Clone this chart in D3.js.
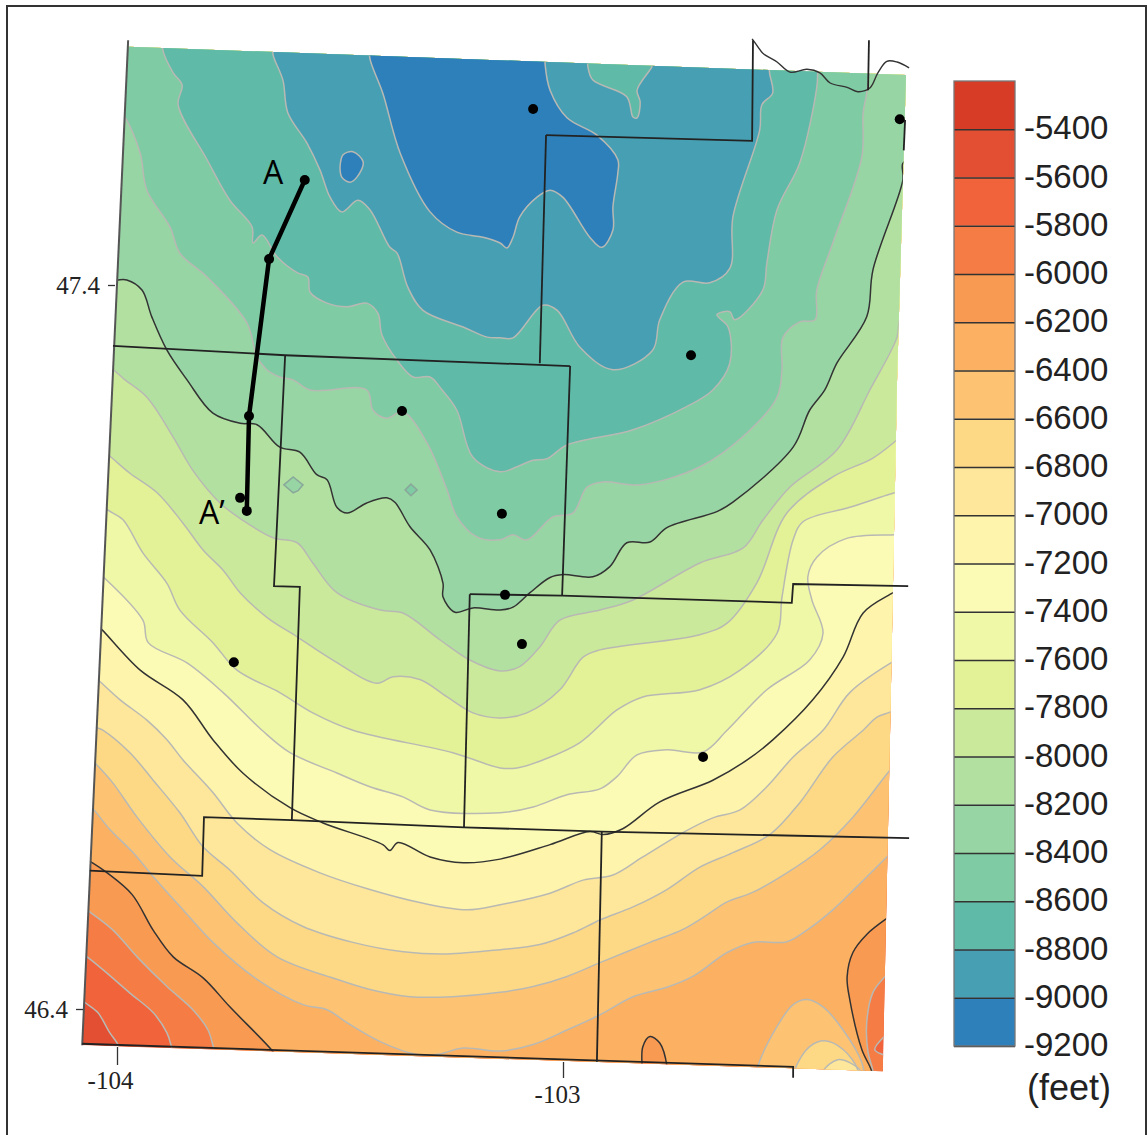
<!DOCTYPE html>
<html>
<head>
<meta charset="utf-8">
<script src="https://cdn.jsdelivr.net/npm/d3@7"></script>
<style>
  html, body { margin: 0; padding: 0; background: #fff; }
  svg { display: block; }
</style>
</head>
<body>
<svg id="chart" width="1147" height="1135"></svg>
<script>
// structure top values as [lon, lat]
const legendLevels = d3.range(-5400, -9201, -200)
const bandTops = d3.range(-5200, -9001, -200)
const bandColors = ['#d73c26', '#e34f32', '#f1643b', '#f67c45', '#f99a52', '#fcb062', '#fdc373', '#fdd985', '#fee79a', '#fef4ac',
  '#fcfbb5', '#eff8a6', '#e3f297', '#cbe99a', '#b2e0a1', '#98d5a4', '#7ecba4', '#5fbaa8', '#479fb3', '#2e80bb']
const blackLevels = [-6200, -7200, -8200]

// closing vertices, outside the map outline
const NE = [[-102.133, 47.766]]
const NW = [[-104.128, 47.766]]
const SE = [[-102.133, 46.261]]
const UNDER = [[-102.245, 46.289]]

const mapOutline = [[-103.975, 47.729], [-102.231, 47.690], [-102.251, 47.269], [-102.267, 46.772], [-102.283, 46.314], [-104.078, 46.350]]

const c5600 = [[[-104.087, 46.417], [-104.072, 46.409], [-104.043, 46.395], [-104.016, 46.367], [-103.998, 46.351], [-103.989, 46.330]], SE, NE, NW]
const c5800 = [[[-104.083, 46.479], [-104.067, 46.472], [-104.031, 46.454], [-103.971, 46.422], [-103.919, 46.395], [-103.888, 46.367], [-103.877, 46.346], [-103.870, 46.330]],
  UNDER,
  [[-102.262, 46.333], [-102.283, 46.337], [-102.301, 46.344], [-102.283, 46.360], [-102.262, 46.371]], NE, NW]
const c6000 = [[[-104.076, 46.540], [-104.061, 46.534], [-104.009, 46.509], [-103.955, 46.472], [-103.888, 46.431], [-103.830, 46.399], [-103.796, 46.371], [-103.783, 46.346], [-103.774, 46.330]],
  [[-102.305, 46.296], [-102.305, 46.314], [-102.316, 46.340], [-102.319, 46.381], [-102.305, 46.423], [-102.278, 46.445], [-102.256, 46.459]], NE, NW]
const c6200 = [[[-104.074, 46.609], [-104.058, 46.603], [-104.022, 46.588], [-103.966, 46.558], [-103.919, 46.509], [-103.874, 46.472], [-103.807, 46.443], [-103.747, 46.403], [-103.650, 46.341], [-103.635, 46.327]],
  [[-102.823, 46.296], [-102.823, 46.321], [-102.821, 46.348], [-102.805, 46.362], [-102.783, 46.353], [-102.767, 46.321], [-102.767, 46.296]],
  [[-102.307, 46.289], [-102.307, 46.312], [-102.330, 46.344], [-102.357, 46.413], [-102.363, 46.444], [-102.350, 46.478], [-102.319, 46.503], [-102.274, 46.525], [-102.251, 46.534]], NE, NW]
const c6400 = [[[-104.072, 46.686], [-104.056, 46.678], [-104.016, 46.648], [-103.964, 46.616], [-103.919, 46.583], [-103.852, 46.537], [-103.785, 46.492], [-103.686, 46.441], [-103.583, 46.406], [-103.529, 46.399], [-103.484, 46.381], [-103.410, 46.355], [-103.327, 46.337], [-103.283, 46.337], [-103.224, 46.346], [-103.141, 46.342], [-103.067, 46.351], [-102.991, 46.371], [-102.917, 46.392], [-102.843, 46.417], [-102.767, 46.430], [-102.709, 46.445], [-102.632, 46.478], [-102.575, 46.492], [-102.498, 46.493], [-102.453, 46.509], [-102.395, 46.537], [-102.341, 46.569], [-102.274, 46.610], [-102.251, 46.624]], NE, NW]
const lobe6400 = [[[-102.570, 46.296], [-102.563, 46.321], [-102.520, 46.376], [-102.484, 46.406], [-102.453, 46.413], [-102.417, 46.403], [-102.372, 46.371], [-102.330, 46.326], [-102.323, 46.296]]]
const c6600 = [[[-104.061, 46.747], [-104.045, 46.737], [-104.009, 46.712], [-103.955, 46.665], [-103.881, 46.610], [-103.807, 46.569], [-103.731, 46.519], [-103.641, 46.472], [-103.507, 46.441], [-103.433, 46.427], [-103.343, 46.417], [-103.247, 46.417], [-103.141, 46.423], [-103.067, 46.431], [-102.991, 46.445], [-102.917, 46.464], [-102.805, 46.492], [-102.731, 46.510], [-102.677, 46.530], [-102.632, 46.548], [-102.575, 46.561], [-102.498, 46.588], [-102.424, 46.620], [-102.350, 46.665], [-102.272, 46.726], [-102.251, 46.741]], NE, NW]
const lobe6600 = [[[-102.480, 46.296], [-102.480, 46.316], [-102.447, 46.348], [-102.413, 46.356], [-102.372, 46.344], [-102.339, 46.316], [-102.339, 46.296]]]
const c6800 = [[[-104.061, 46.799], [-104.045, 46.789], [-104.031, 46.785], [-103.971, 46.754], [-103.919, 46.716], [-103.859, 46.671], [-103.807, 46.624], [-103.747, 46.592], [-103.673, 46.547], [-103.583, 46.514], [-103.471, 46.492], [-103.358, 46.479], [-103.260, 46.476], [-103.141, 46.482], [-103.052, 46.489], [-102.978, 46.505], [-102.917, 46.523], [-102.843, 46.541], [-102.767, 46.565], [-102.693, 46.596], [-102.619, 46.616], [-102.536, 46.641], [-102.469, 46.685], [-102.395, 46.748], [-102.327, 46.785], [-102.296, 46.803], [-102.267, 46.810], [-102.245, 46.816]], NE, NW]
const lobe6800 = [[[-102.417, 46.296], [-102.417, 46.314], [-102.384, 46.330], [-102.357, 46.326], [-102.330, 46.312], [-102.330, 46.296]]]
const c7000 = [[[-104.054, 46.860], [-104.038, 46.852], [-103.993, 46.827], [-103.933, 46.799], [-103.888, 46.772], [-103.852, 46.744], [-103.785, 46.699], [-103.731, 46.657], [-103.657, 46.620], [-103.545, 46.588], [-103.433, 46.565], [-103.321, 46.547], [-103.215, 46.537], [-103.141, 46.544], [-103.029, 46.560], [-102.955, 46.578], [-102.888, 46.585], [-102.821, 46.610], [-102.727, 46.645], [-102.664, 46.664], [-102.603, 46.675], [-102.543, 46.707], [-102.484, 46.748], [-102.417, 46.785], [-102.357, 46.837], [-102.262, 46.879], [-102.240, 46.886]], NE, NW]
const c7200 = [[[-104.049, 46.932], [-104.034, 46.924], [-103.948, 46.868], [-103.852, 46.827], [-103.785, 46.772], [-103.718, 46.726], [-103.612, 46.678], [-103.538, 46.657], [-103.404, 46.627], [-103.388, 46.619], [-103.370, 46.630], [-103.298, 46.610], [-103.224, 46.602], [-103.141, 46.607], [-103.029, 46.627], [-102.940, 46.645], [-102.910, 46.641], [-102.866, 46.649], [-102.783, 46.686], [-102.664, 46.716], [-102.587, 46.744], [-102.529, 46.772], [-102.440, 46.827], [-102.372, 46.886], [-102.327, 46.947], [-102.260, 46.975], [-102.238, 46.983]], NE, NW]
const c7400 = [[[-104.047, 47.005], [-104.031, 46.997], [-103.942, 46.937], [-103.930, 46.906], [-103.843, 46.878], [-103.762, 46.837], [-103.675, 46.785], [-103.612, 46.754], [-103.507, 46.726], [-103.433, 46.707], [-103.359, 46.693], [-103.298, 46.675], [-103.141, 46.671], [-103.067, 46.679], [-102.991, 46.696], [-102.917, 46.704], [-102.879, 46.721], [-102.834, 46.751], [-102.767, 46.758], [-102.686, 46.755], [-102.632, 46.785], [-102.543, 46.841], [-102.447, 46.882], [-102.417, 46.919], [-102.442, 46.965], [-102.451, 46.997], [-102.431, 47.024], [-102.364, 47.050], [-102.256, 47.055], [-102.233, 47.056]], NE, NW]
const c7600 = [[[-104.036, 47.098], [-104.020, 47.089], [-103.987, 47.076], [-103.942, 47.030], [-103.888, 46.988], [-103.859, 46.951], [-103.785, 46.906], [-103.731, 46.868], [-103.635, 46.837], [-103.561, 46.809], [-103.471, 46.785], [-103.247, 46.754], [-103.141, 46.733], [-103.103, 46.733], [-103.045, 46.744], [-102.962, 46.768], [-102.879, 46.813], [-102.821, 46.831], [-102.693, 46.841], [-102.603, 46.868], [-102.520, 46.919], [-102.509, 46.969], [-102.484, 47.048], [-102.462, 47.073], [-102.357, 47.093], [-102.251, 47.114], [-102.229, 47.117]], NE, NW]
const c7800 = [[[-104.027, 47.169], [-104.011, 47.161], [-103.971, 47.140], [-103.910, 47.113], [-103.852, 47.071], [-103.807, 47.034], [-103.762, 47.006], [-103.724, 46.975], [-103.664, 46.941], [-103.596, 46.914], [-103.516, 46.882], [-103.417, 46.850], [-103.381, 46.859], [-103.321, 46.855], [-103.260, 46.831], [-103.202, 46.809], [-103.141, 46.802], [-103.081, 46.809], [-103.007, 46.841], [-102.955, 46.886], [-102.917, 46.896], [-102.693, 46.917], [-102.632, 46.933], [-102.565, 46.989], [-102.498, 47.085], [-102.395, 47.135], [-102.305, 47.161], [-102.251, 47.186], [-102.229, 47.197]], NE, NW]
const c8000 = [[[-104.031, 47.290], [-104.009, 47.283], [-103.982, 47.269], [-103.933, 47.245], [-103.874, 47.190], [-103.830, 47.144], [-103.769, 47.099], [-103.718, 47.075], [-103.650, 47.051], [-103.596, 47.044], [-103.561, 47.016], [-103.507, 46.975], [-103.410, 46.951], [-103.359, 46.947], [-103.276, 46.910], [-103.209, 46.882], [-103.141, 46.867], [-103.097, 46.873], [-103.052, 46.900], [-103.007, 46.937], [-102.917, 46.951], [-102.843, 46.965], [-102.693, 47.016], [-102.596, 47.037], [-102.552, 47.075], [-102.491, 47.121], [-102.386, 47.172], [-102.312, 47.255], [-102.251, 47.328], [-102.245, 47.352], [-102.227, 47.363]], NE, NW]
const c8200 = [[[-104.016, 47.407], [-104.000, 47.407], [-103.978, 47.407], [-103.944, 47.393], [-103.922, 47.356], [-103.888, 47.310], [-103.843, 47.269], [-103.785, 47.223], [-103.724, 47.209], [-103.686, 47.207], [-103.635, 47.176], [-103.590, 47.169], [-103.552, 47.138], [-103.529, 47.131], [-103.507, 47.093], [-103.484, 47.085], [-103.440, 47.099], [-103.395, 47.106], [-103.377, 47.100], [-103.343, 47.066], [-103.298, 47.034], [-103.269, 46.988], [-103.269, 46.969], [-103.242, 46.948], [-103.202, 46.954], [-103.141, 46.951], [-103.112, 46.955], [-103.074, 46.975], [-103.029, 46.996], [-103.000, 47.000], [-102.933, 46.997], [-102.895, 47.011], [-102.857, 47.044], [-102.805, 47.045], [-102.767, 47.065], [-102.655, 47.087], [-102.619, 47.100], [-102.484, 47.176], [-102.447, 47.227], [-102.413, 47.255], [-102.386, 47.292], [-102.319, 47.356], [-102.305, 47.421], [-102.238, 47.545], [-102.238, 47.568], [-102.218, 47.575]], NE, NW]
const c8400 = [[[-103.998, 47.644], [-103.982, 47.632], [-103.948, 47.582], [-103.933, 47.531], [-103.881, 47.480], [-103.859, 47.444], [-103.798, 47.411], [-103.709, 47.348], [-103.686, 47.301], [-103.664, 47.283], [-103.635, 47.273], [-103.605, 47.269], [-103.567, 47.255], [-103.440, 47.255], [-103.426, 47.227], [-103.395, 47.216], [-103.359, 47.225], [-103.305, 47.182], [-103.260, 47.117], [-103.238, 47.080], [-103.193, 47.052], [-103.141, 47.048], [-103.112, 47.055], [-103.081, 47.048], [-103.022, 47.080], [-102.978, 47.085], [-102.946, 47.121], [-102.910, 47.128], [-102.827, 47.124], [-102.693, 47.149], [-102.587, 47.196], [-102.520, 47.245], [-102.509, 47.283], [-102.507, 47.327], [-102.469, 47.349], [-102.435, 47.352], [-102.431, 47.393], [-102.395, 47.458], [-102.330, 47.577], [-102.327, 47.638], [-102.319, 47.665], [-102.312, 47.711]], NE, NW]
const c8600 = [[[-103.897, 47.738], [-103.897, 47.724], [-103.874, 47.693], [-103.854, 47.676], [-103.863, 47.649], [-103.798, 47.573], [-103.747, 47.517], [-103.697, 47.480], [-103.695, 47.458], [-103.675, 47.469], [-103.641, 47.439], [-103.596, 47.417], [-103.572, 47.411], [-103.567, 47.390], [-103.529, 47.375], [-103.484, 47.370], [-103.440, 47.375], [-103.415, 47.361], [-103.406, 47.331], [-103.372, 47.296], [-103.336, 47.273], [-103.298, 47.273], [-103.271, 47.255], [-103.238, 47.227], [-103.202, 47.162], [-103.141, 47.142], [-103.103, 47.149], [-103.067, 47.158], [-103.036, 47.160], [-102.991, 47.179], [-102.843, 47.200], [-102.723, 47.232], [-102.664, 47.255], [-102.626, 47.292], [-102.630, 47.342], [-102.655, 47.359], [-102.626, 47.363], [-102.615, 47.352], [-102.552, 47.393], [-102.543, 47.430], [-102.520, 47.504], [-102.469, 47.569], [-102.431, 47.673], [-102.429, 47.693], [-102.429, 47.718]]]
const c8800 = [[[-103.650, 47.731], [-103.650, 47.718], [-103.628, 47.683], [-103.617, 47.638], [-103.574, 47.596], [-103.545, 47.559], [-103.522, 47.521], [-103.496, 47.501], [-103.460, 47.517], [-103.433, 47.504], [-103.388, 47.452], [-103.372, 47.444], [-103.348, 47.397], [-103.314, 47.365], [-103.224, 47.342], [-103.170, 47.328], [-103.141, 47.327], [-103.112, 47.327], [-103.045, 47.372], [-103.013, 47.365], [-102.962, 47.314], [-102.888, 47.283], [-102.799, 47.310], [-102.783, 47.352], [-102.731, 47.404], [-102.671, 47.403], [-102.626, 47.423], [-102.619, 47.494], [-102.559, 47.614], [-102.554, 47.649], [-102.530, 47.665], [-102.537, 47.694], [-102.537, 47.718]],
  [[-102.801, 47.718], [-102.801, 47.701], [-102.805, 47.697], [-102.834, 47.669], [-102.827, 47.653], [-102.834, 47.631], [-102.843, 47.632], [-102.857, 47.660], [-102.933, 47.683], [-102.944, 47.701], [-102.944, 47.718]]]
const c9000 = [[[-103.433, 47.731], [-103.433, 47.713], [-103.404, 47.665], [-103.365, 47.582], [-103.298, 47.501], [-103.238, 47.473], [-103.179, 47.466], [-103.141, 47.458], [-103.126, 47.451], [-103.112, 47.466], [-103.097, 47.494], [-103.059, 47.521], [-103.029, 47.531], [-103.000, 47.521], [-102.940, 47.466], [-102.913, 47.452], [-102.888, 47.476], [-102.888, 47.508], [-102.877, 47.555], [-102.877, 47.573], [-102.924, 47.607], [-102.991, 47.631], [-103.029, 47.669], [-103.040, 47.704], [-103.040, 47.725]]]
const island9000 = [[[-103.500, 47.563], [-103.493, 47.580], [-103.471, 47.584], [-103.448, 47.570], [-103.462, 47.549], [-103.478, 47.542], [-103.496, 47.549], [-103.500, 47.563]]]

const contourRings = [
  [-5600, c5600], [-5800, c5800], [-6000, c6000], [-6200, c6200], [-6400, c6400], [-6400, lobe6400], [-6600, c6600], [-6600, lobe6600],
  [-6800, c6800], [-6800, lobe6800], [-7000, c7000], [-7200, c7200], [-7400, c7400], [-7600, c7600], [-7800, c7800], [-8000, c8000],
  [-8200, c8200], [-8400, c8400], [-8600, c8600], [-8800, c8800], [-9000, c9000], [-9000, island9000]
]

// small closed pockets, outlined grey even on a black level
const pocket8200 = [[-103.626, 47.124], [-103.605, 47.135], [-103.583, 47.124], [-103.594, 47.116], [-103.605, 47.113]]
const pocket8400 = [[-103.354, 47.117], [-103.341, 47.125], [-103.327, 47.117], [-103.341, 47.109]]

const countyLines = [
  [[-104.009, 47.316], [-103.623, 47.303], [-102.984, 47.288]],
  [[-103.623, 47.303], [-103.648, 46.984], [-103.590, 46.983], [-103.608, 46.661]],
  [[-102.984, 47.288], [-103.002, 46.971]],
  [[-103.209, 46.973], [-103.002, 46.971], [-102.487, 46.961], [-102.484, 46.987], [-102.226, 46.984]],
  [[-103.209, 46.973], [-103.222, 46.651]],
  [[-104.061, 46.591], [-103.809, 46.584], [-103.805, 46.665], [-103.608, 46.661], [-103.222, 46.651], [-102.913, 46.645], [-102.224, 46.636]],
  [[-102.913, 46.645], [-102.924, 46.327]],
  [[-103.038, 47.607], [-102.576, 47.599], [-102.574, 47.738]],
  [[-103.038, 47.607], [-103.052, 47.292]],
  [[-102.314, 47.738], [-102.316, 47.669]],
  [[-104.078, 46.352], [-102.484, 46.320], [-102.484, 46.305]],
  [[-102.233, 47.628], [-102.236, 47.586]]
]
const westEdge = [[-103.975, 47.738], [-104.078, 46.350]]
const riverLine = [[-102.576, 47.740], [-102.563, 47.729], [-102.552, 47.720], [-102.520, 47.708], [-102.491, 47.694], [-102.453, 47.698], [-102.424, 47.693], [-102.401, 47.679], [-102.363, 47.673], [-102.339, 47.667], [-102.312, 47.672], [-102.294, 47.693], [-102.274, 47.709], [-102.251, 47.708], [-102.224, 47.700]]

const wells = [[-103.067, 47.643], [-102.245, 47.629], [-103.579, 47.545], [-103.659, 47.436], [-102.713, 47.303], [-103.361, 47.226], [-103.704, 47.219], [-103.724, 47.106], [-103.709, 47.088], [-103.137, 47.084], [-103.130, 46.972], [-103.092, 46.904], [-103.738, 46.879], [-102.686, 46.748]]
const sectionLine = [[-103.579, 47.545], [-103.659, 47.436], [-103.704, 47.219], [-103.709, 47.088]]

let svg = d3.select('#chart')
let lonScale = d3.scaleLinear().domain([-104, -103]).range([117, 563])
let latScale = d3.scaleLinear().domain([47.4, 46.4]).range([285, 1009])
let legendY = d3.scaleLinear().domain([-5200, -9200]).range([81, 1046])

let line = d3.line().x(d => lonScale(d[0])).y(d => latScale(d[1]))
let smooth = d3.line().x(d => lonScale(d[0])).y(d => latScale(d[1])).curve(d3.curveCatmullRom.alpha(0.5))

// a ring is a list of contour pieces joined by straight closing runs outside the map
function ringPath(ring) {
  return ring.map((seg, i) => {
    let d = seg.length > 1 ? smooth(seg) : line(seg).replace('Z', '')
    return i ? d.replace(/^M/, 'L') : d
  }).join('') + 'Z'
}
const bandColor = level => bandColors[bandTops.indexOf(level)]

// page frame, its bottom edge runs off the page
svg.append('rect').attr('x', 7).attr('y', 6).attr('width', 1139).attr('height', 1160)
  .attr('fill', '#fff').attr('stroke', '#333').attr('stroke-width', 2)

svg.append('clipPath').attr('id', 'map-clip').append('path').attr('d', line(mapOutline) + 'Z')
let map = svg.append('g').attr('clip-path', 'url(#map-clip)')

// shallow to deep, each ring paints everything deeper than its level
map.append('path').attr('d', line(mapOutline) + 'Z').attr('fill', bandColor(-5400))
map.selectAll('path.band').data(contourRings).enter().append('path')
  .attr('class', 'band')
  .attr('d', d => ringPath(d[1]))
  .attr('fill', d => bandColor(d[0]))
map.selectAll('path.pocket').data([[-8200, pocket8200], [-8400, pocket8400]]).enter().append('path')
  .attr('class', 'pocket')
  .attr('d', d => line(d[1]) + 'Z')
  .attr('fill', d => bandColor(d[0]))
  .attr('stroke', '#8aa89a').attr('stroke-width', 1.5)

// contour lines, grey, with the black index contours on top
let pieces = []
contourRings.forEach(d => d[1].forEach(seg => { if (seg.length > 1) pieces.push({ level: d[0], seg: seg }) }))
pieces.sort((a, b) => blackLevels.includes(a.level) - blackLevels.includes(b.level))
svg.append('g').attr('clip-path', 'url(#map-clip)').selectAll('path').data(pieces).enter().append('path')
  .attr('d', d => smooth(d.seg))
  .attr('fill', 'none')
  .attr('stroke', d => blackLevels.includes(d.level) ? '#333' : '#b9b9b4')
  .attr('stroke-width', d => blackLevels.includes(d.level) ? 1.5 : 1.5)

svg.append('path').attr('d', line(westEdge)).attr('fill', 'none').attr('stroke', '#555').attr('stroke-width', 2)
svg.append('path').attr('d', smooth(riverLine)).attr('fill', 'none').attr('stroke', '#333').attr('stroke-width', 1.4)
svg.selectAll('path.county').data(countyLines).enter().append('path')
  .attr('class', 'county')
  .attr('d', line)
  .attr('fill', 'none').attr('stroke', '#222').attr('stroke-width', 1.8)

svg.append('path').attr('d', line(sectionLine)).attr('fill', 'none').attr('stroke', '#000').attr('stroke-width', 4.5)
svg.selectAll('circle').data(wells).enter().append('circle')
  .attr('cx', d => lonScale(d[0])).attr('cy', d => latScale(d[1])).attr('r', 5).attr('fill', '#000')

const labelFont = '"Open Sans", sans-serif'
svg.append('text').attr('x', 273).attr('y', 184).attr('text-anchor', 'middle')
  .style('font', '32px ' + labelFont).text('A')
svg.append('text').attr('x', 199).attr('y', 524)
  .style('font', '32px ' + labelFont).text('A\u2019')

// coordinate ticks sit on the slanted map edges, so each gets its own axis
function coordTick(axis, x, y, dx) {
  let g = svg.append('g').attr('transform', 'translate(' + x + ',' + y + ')').call(axis)
  g.select('.domain').remove()
  g.selectAll('line').attr('stroke', '#333').attr('stroke-width', 1.3)
  g.selectAll('text').attr('dx', dx).attr('fill', '#222').style('font', '25px "Liberation Serif", serif')
}
coordTick(d3.axisLeft(latScale).tickValues([47.4]).tickSize(7).tickPadding(8).tickFormat(d3.format('.1f')), 115, 0, 0)
coordTick(d3.axisLeft(latScale).tickValues([46.4]).tickSize(7).tickPadding(8).tickFormat(d3.format('.1f')), 83, 0, 0)
coordTick(d3.axisBottom(lonScale).tickValues([-104]).tickSize(18).tickPadding(6).tickFormat(String), 0, 1047, -7)
coordTick(d3.axisBottom(lonScale).tickValues([-103]).tickSize(16).tickPadding(7).tickFormat(String), 0, 1062, -6)

// legend
svg.append('g').selectAll('rect').data(bandTops).enter().append('rect')
  .attr('x', 954).attr('width', 61)
  .attr('y', d => legendY(d))
  .attr('height', d => legendY(d - 200) - legendY(d))
  .attr('fill', d => bandColor(d))
let legendAxis = svg.append('g').attr('transform', 'translate(1015,0)')
  .call(d3.axisRight(legendY).tickValues(legendLevels).tickSizeInner(-61).tickSizeOuter(0).tickPadding(9).tickFormat(String))
legendAxis.select('.domain').remove()
legendAxis.selectAll('line').attr('stroke', '#333').attr('stroke-width', 1.5)
legendAxis.selectAll('text').attr('fill', '#222').attr('dy', '0.29em').style('font', '33px "Liberation Sans", sans-serif')
svg.append('rect').attr('x', 954).attr('y', 81).attr('width', 61).attr('height', 965)
  .attr('fill', 'none').attr('stroke', '#777').attr('stroke-width', 1.3)
svg.append('text').attr('x', 1027).attr('y', 1100).attr('fill', '#222')
  .style('font', '36px "Liberation Sans", sans-serif').text('(feet)')
</script>
</body>
</html>
